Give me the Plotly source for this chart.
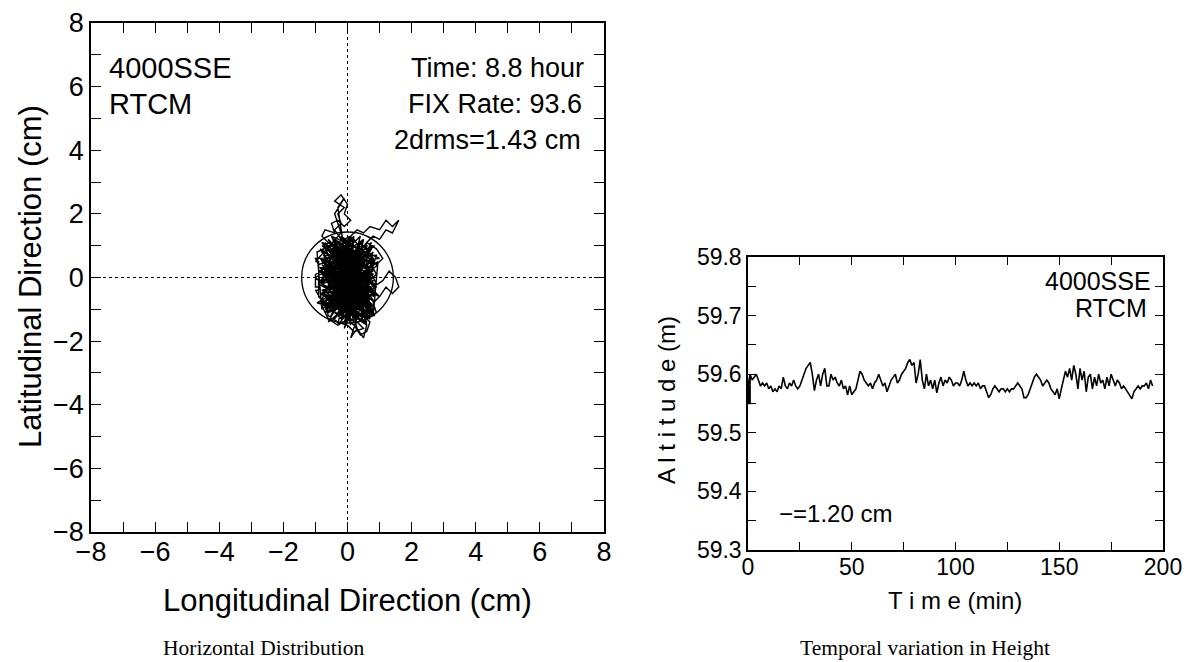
import plotly.graph_objects as go

# ---------------- data ----------------
# Horizontal scatter (cm)
lon = [0,0.2,-0.1,0.3,0.1,-0.3,-0.5,-0.2,0.1,0.4,0.2,-0.1,-0.4,-0.6,-0.3,-0.7,-0.5,-0.8,-0.4,-0.1,
       0.2,0.5,0.7,0.4,0.1,-0.2,-0.5,-0.3,0.0,0.3,0.5,0.2,0.0,-0.3,-0.6,-0.7,-0.9,-0.9,-1.0,-1.0,
       -0.8,-0.6,-0.3,0.0,0.3,0.6,0.9,0.7,0.5,0.8,1.1,1.3,1.5,1.6,1.4,1.2,1.0,0.8,0.9,0.6,
       0.3,0.1,-0.2,-0.4,-0.6,-0.4,-0.1,0.2,0.4,0.6,0.7,0.5,0.8,0.6,0.3,0.0,-0.2,0.1,0.4,0.7,
       0.9,1.1,0.9,0.6,0.8,1.0,1.2,1.4,1.6,1.4,1.2,1.0,0.7,0.5,0.3,0.1,0.2,0.5,0.3,0.0,
       -0.2,-0.4,-0.2,-0.3,-0.1,-0.4,-0.2,0.0,-0.1,0.1,-0.1,-0.3,-0.5,-0.4,-0.7,-0.8,-0.6,-0.8,-0.5,-0.7,
       -0.9,-1.0,-0.8,-0.6,-0.4,-0.6,-0.3,0.0,0.2,0.4,0.6,0.4,0.1,-0.2,-0.4,-0.1,0.2,0.4,0.6,0.8,
       0.6,0.8,0.5,0.7,0.4,0.2,-0.1,-0.4,-0.6,-0.8,-0.6,-0.3,0.0,0.2,0.4,0.2,-0.1,-0.3,-0.5,-0.7,
       -0.5,-0.2,0.1,0.3,0.5,0.3,0.0,-0.2,0.1,0.3,0.5,0.7,0.9,0.7,0.5,0.3,0.0,-0.3,-0.5,-0.3,
       0.0,0.3,-0.2,0.5,-0.4,0.6,-0.6,0.2,-0.1,0.4,-0.7,0.1,0.7,-0.5,0.3,-0.3,0.8,-0.2,0.0,0.5,
       -0.6,0.2,0.6,-0.4,0.1,-0.1,0.4,-0.5,0.3,0.0,0.6,-0.3,0.2,-0.7,0.5,0.0,-0.2,0.4,-0.4,0.1,
       -0.7,0.5,-0.3,0.7,-0.8,0.4,-0.6,0.8,-0.2,0.3,-0.85,0.6,-0.5,0.75,-0.4,0.2,-0.7,0.5,-0.1,0.8,
       -0.75,0.3,-0.3,0.7,-0.6,0.1,-0.8,0.6,-0.2,0.85,-0.5,0.4,-0.7,0.2,-0.4,0.8,-0.1,0.5,-0.8,0.3,
       -0.6,0.7,-0.3,0.1,-0.85,0.6,-0.2,0.4,-0.7,0.8,-0.4,0.2,-0.5,0.8,-0.1,0.5,-0.75,0.3,-0.3,0.7,
       -0.6,0.1,-0.2,0.6,-0.7,0.4,-0.4,0.75,-0.1,0.5,-0.8,0.2,-0.3,0.7,-0.8,0.3,-0.5,0.8,-0.2,0.0,
       -0.5,0.4,-0.8,0.7,-0.1,0.6,-0.85,0.5,-0.2,0.8,-0.6,0.3,-0.3,0.1,-0.7,0.85,-0.4,0.2,-0.1,0.6,
       0.6,-0.4,0.2,-0.8,0.8,-0.1,0.4,-0.6,0.7,-0.3,0.1,-0.8,0.5,-0.2,0.8,-0.5,0.3,-0.7,0.6,0.0,
       -0.4,0.8,-0.75,0.2,-0.1,0.7,-0.6,0.4,-0.3,0.85,-0.5,0.1,-0.8,0.6,-0.2,0.5,-0.7,0.3,0.0,0.8,
       -0.4,0.2,-0.8,0.7,-0.1,0.4,-0.6,0.75,-0.3,0.1,
       -0.95,-0.8,0.95,0.8,-0.9,0.85,-0.85,1.0,-0.7,0.7,-0.95,0.8,-0.8,0.9,-0.6,0.75,-1.0,0.6,-0.85,0.9,
       0.1,0.3,0.5,0.6,0.2,-0.3,-0.1,-0.4,-0.2,-1.0,-0.9,-0.9,-1.0,-0.7,0.95,-0.8,0.8,-0.9,0.7,-0.6,
       0.9,-0.9,0.8,-0.7,0.85,-0.85,0.6,-0.5,1.0,-0.8]
lat = [0,0.3,0.5,0.2,-0.3,-0.1,0.4,0.8,0.6,0.9,1.2,1.0,1.2,0.9,0.6,0.3,-0.2,-0.5,-0.7,-0.4,
       -0.8,-0.5,-0.9,-1.2,-1.0,-1.3,-1.0,-0.6,-0.9,-1.4,-1.6,-1.7,-1.5,-1.4,-1.2,-0.8,-0.6,-0.3,-0.3,0.1,
       0.2,-0.1,0.2,-0.2,0.1,-0.2,0.1,0.5,0.2,-0.3,-0.1,0.2,0.0,-0.3,-0.5,-0.3,-0.6,-0.8,-1.1,-1.3,
       -1.1,-0.7,-0.9,-0.5,-0.7,-1.1,-1.2,-1.5,-1.8,-1.7,-1.4,-1.2,-1.0,-0.7,-0.4,-0.6,-0.2,0.1,0.4,0.7,
       0.4,0.6,0.9,1.1,1.3,1.2,1.5,1.4,1.8,1.6,1.8,1.5,1.6,1.4,1.5,1.3,1.0,0.8,0.5,0.8,
       1.2,1.5,1.7,2.0,2.2,2.4,2.6,2.3,2.0,1.8,1.6,1.8,1.7,1.4,1.5,1.3,1.1,0.8,0.7,0.5,
       0.4,0.6,0.6,0.3,0.0,-0.4,-0.3,0.1,-0.2,-0.1,0.3,0.6,0.4,0.4,0.8,1.1,0.8,1.1,0.9,0.6,
       0.4,0.1,-0.1,-0.4,-0.7,-0.5,-0.8,-0.9,-0.6,-0.9,-1.3,-1.5,-1.3,-1.1,-0.9,-0.6,-0.3,0.0,0.2,0.0,
       -0.3,-0.5,-0.2,-0.3,0.0,0.3,0.3,0.6,0.9,0.7,0.5,0.2,-0.2,-0.6,-0.9,-0.7,-1.0,-0.8,-0.5,-0.2,
       0.1,0.9,-1.0,0.6,-0.8,-0.5,0.7,-1.2,1.0,-0.3,-0.1,1.1,-0.7,0.9,-1.3,0.5,0.3,-1.1,1.2,-0.9,
       -0.2,0.7,0.0,1.0,-1.4,0.4,-0.6,-0.9,0.8,-0.4,0.6,-1.2,1.3,0.2,-1.0,0.5,-0.7,0.1,1.1,-1.5,
       1.0,-0.4,1.1,0.3,-0.2,1.0,-1.1,-0.5,1.3,-1.3,0.3,0.8,-0.9,0.0,0.9,-1.4,-0.4,1.2,-1.6,0.6,
       0.7,-0.9,-1.2,-1.1,0.5,1.3,-0.7,-1.4,0.2,-0.8,1.3,-0.2,-1.0,0.7,-0.3,1.0,-0.7,-1.0,0.0,0.4,
       1.1,-0.2,-1.5,0.9,-0.1,0.1,-1.0,1.3,0.2,-0.4,-0.6,1.2,0.6,-1.2,0.5,0.6,-0.5,-1.6,0.8,0.9,
       -0.8,-0.1,0.5,-0.6,-1.1,0.3,-1.3,0.2,-1.1,0.0,-0.4,-0.7,-0.3,-1.3,0.6,0.8,-0.9,0.4,1.0,-0.5,
       -0.1,-0.8,0.4,-0.8,1.2,-1.5,-0.5,-0.3,-0.9,0.5,0.0,-1.0,0.3,-0.8,-0.6,-1.2,1.0,-0.3,0.0,1.0,
       -0.9,1.2,-0.5,-0.9,0.8,-1.4,0.2,0.9,-1.3,-0.4,1.1,0.1,-0.8,1.3,0.5,-1.2,0.6,-0.6,1.1,-1.2,
       0.1,-0.9,0.6,-1.0,0.7,-0.3,-1.4,0.9,-0.2,-0.6,1.0,-0.8,-0.5,0.4,-1.3,1.2,0.3,-1.2,0.4,-0.1,
       -1.0,1.0,-0.2,-1.0,0.1,-1.4,0.7,0.2,-0.7,1.3,
       0.8,-1.0,0.5,-1.2,-0.2,1.0,0.3,-0.6,1.1,-1.3,-0.8,0.2,1.0,-0.3,-1.4,1.1,0.0,-1.5,0.6,0.7,
       -1.9,-1.6,-1.9,-1.5,-1.2,2.2,2.5,2.0,1.4,0.5,0.5,-0.4,-0.4,-0.9,0.4,1.1,-0.9,-0.8,-1.2,1.2,
       -0.5,0.2,1.0,-1.1,-0.2,0.9,-1.3,1.3,0.6,0.3]

drms2 = 1.43  # cm

# Height time series
time_min = list(range(0, 196))
altitude = [59.58,59.60,59.59,59.595,59.60,59.59,59.58,59.585,59.58,59.585,
            59.575,59.58,59.57,59.575,59.57,59.58,59.575,59.595,59.58,59.575,
            59.585,59.58,59.59,59.58,59.575,59.58,59.59,59.60,59.61,59.615,
            59.62,59.60,59.572,59.59,59.60,59.58,59.60,59.61,59.58,59.58,
            59.60,59.59,59.595,59.585,59.58,59.59,59.575,59.58,59.565,59.58,
            59.565,59.57,59.575,59.59,59.605,59.60,59.59,59.585,59.58,59.585,
            59.575,59.585,59.59,59.60,59.59,59.58,59.585,59.57,59.58,59.59,
            59.595,59.60,59.585,59.59,59.60,59.605,59.61,59.62,59.625,59.615,
            59.62,59.585,59.60,59.625,59.59,59.575,59.60,59.58,59.59,59.575,
            59.59,59.568,59.585,59.595,59.58,59.59,59.585,59.595,59.59,59.58,
            59.585,59.585,59.58,59.59,59.605,59.59,59.58,59.585,59.58,59.585,
            59.58,59.585,59.575,59.58,59.58,59.57,59.56,59.565,59.575,59.58,
            59.575,59.57,59.575,59.575,59.57,59.575,59.57,59.575,59.575,59.58,
            59.585,59.58,59.575,59.56,59.56,59.565,59.575,59.585,59.595,59.60,
            59.595,59.59,59.58,59.585,59.59,59.585,59.575,59.57,59.565,59.575,
            59.558,59.575,59.59,59.605,59.595,59.61,59.59,59.615,59.60,59.575,
            59.61,59.59,59.605,59.57,59.595,59.60,59.575,59.595,59.58,59.60,
            59.585,59.59,59.575,59.595,59.58,59.60,59.59,59.58,59.59,59.585,
            59.575,59.58,59.575,59.57,59.565,59.558,59.57,59.575,59.58,59.575,
            59.58,59.58,59.585,59.575,59.59,59.58]
# initial step at start of the record
start_t = [0, 0.3, 0.3, 1.0, 1.0]
start_alt = [59.58, 59.58, 59.55, 59.55, 59.60]

h_ticks = list(range(-8, 9))
h_ticktext = [("%d" % v).replace("-", "\u2212") if v % 2 == 0 else "" for v in h_ticks]
t_ticks = [0, 25, 50, 75, 100, 125, 150, 175, 200]
t_ticktext = ["0", "", "50", "", "100", "", "150", "", "200"]
a_ticks = [59.30, 59.35, 59.40, 59.45, 59.50, 59.55, 59.60, 59.65, 59.70, 59.75, 59.80]
a_ticktext = ["59.3", "", "59.4", "", "59.5", "", "59.6", "", "59.7", "", "59.8"]

# ---------------- figure ----------------
W, H = 1184, 662
FONT = "Liberation Sans, Arial, sans-serif"

fig = go.Figure()
fig.add_trace(go.Scatter(x=lon, y=lat, mode="lines", line=dict(color="black", width=1.4),
                         xaxis="x", yaxis="y", showlegend=False, hoverinfo="skip"))
fig.add_trace(go.Scatter(x=start_t + time_min, y=start_alt + altitude, mode="lines",
                         line=dict(color="black", width=1.6),
                         xaxis="x2", yaxis="y2", showlegend=False))

def px2x(px):
    return px / W

def px2y(py):
    return 1 - py / H

ax_common = dict(showgrid=False, zeroline=False, showline=True, linecolor="black", linewidth=1.5,
                 mirror="ticks", ticks="inside", tickcolor="black", tickwidth=1.2,
                 automargin=False)

fig.update_layout(
    template="none",
    width=W, height=H, autosize=False,
    margin=dict(l=0, r=0, t=0, b=0, pad=0),
    paper_bgcolor="white", plot_bgcolor="white",
    font=dict(family=FONT, color="black"),
    xaxis=dict(domain=[px2x(91), px2x(604)], range=[-8, 8], tickvals=h_ticks, ticktext=h_ticktext,
               ticklen=10, tickfont=dict(size=27), anchor="y", ticklabelstandoff=-5, **ax_common),
    yaxis=dict(domain=[px2y(532), px2y(23)], range=[-8, 8], tickvals=h_ticks, ticktext=h_ticktext,
               ticklen=10, tickfont=dict(size=27), anchor="x", **ax_common),
    xaxis2=dict(domain=[px2x(748), px2x(1163)], range=[0, 200], tickvals=t_ticks, ticktext=t_ticktext,
                ticklen=8, tickfont=dict(size=23), anchor="y2", ticklabelstandoff=-4, **ax_common),
    yaxis2=dict(domain=[px2y(550), px2y(257)], range=[59.3, 59.8], tickvals=a_ticks, ticktext=a_ticktext,
                ticklen=8, tickfont=dict(size=23), anchor="x2", **ax_common),
)

# crosshair dotted lines and 2drms circle
fig.add_shape(type="line", xref="x", yref="y", x0=0, x1=0, y0=-8, y1=8,
              line=dict(color="black", width=1, dash="dot"))
fig.add_shape(type="line", xref="x", yref="y", x0=-8, x1=8, y0=0, y1=0,
              line=dict(color="black", width=1, dash="dot"))
fig.add_shape(type="circle", xref="x", yref="y", x0=-drms2, x1=drms2, y0=-drms2, y1=drms2,
              line=dict(color="black", width=1.3))

def ann(text, x, y, size, xanchor="center", family=FONT, angle=0):
    fig.add_annotation(text=text, x=px2x(x), y=px2y(y), xref="paper", yref="paper",
                       showarrow=False, xanchor=xanchor, yanchor="middle",
                       font=dict(size=size, family=family, color="black"), textangle=angle)

# left panel texts
ann("4000SSE", 107, 68, 29, "left")
ann("RTCM", 107, 104, 29, "left")
ann("Time: 8.8 hour", 586, 68, 27, "right")
ann("FIX Rate: 93.6", 584, 104, 27, "right")
ann("2drms=1.43 cm", 583, 140, 27, "right")
ann("Longitudinal Direction (cm)", 347, 600, 31)
ann("Latitudinal Direction (cm)", 30, 277, 31, angle=-90)

# right panel texts
ann("4000SSE", 1153, 281, 25, "right")
ann("RTCM", 1149, 308, 25, "right")
ann("\u2212=1.20 cm", 777, 513, 24, "left")
ann("A l t i t u d e (m)", 666, 400, 24, angle=-90)
ann("T i m e (min)", 955, 600, 24)

# captions
SERIF = "Liberation Serif, Times New Roman, serif"
ann("Horizontal Distribution", 263, 648, 21.5, family=SERIF)
ann("Temporal variation in Height", 925, 648, 21.5, family=SERIF)

fig.write_html("out.html", config={"displayModeBar": False},
               post_script="document.body.style.margin='0';document.body.style.overflow='hidden';")
